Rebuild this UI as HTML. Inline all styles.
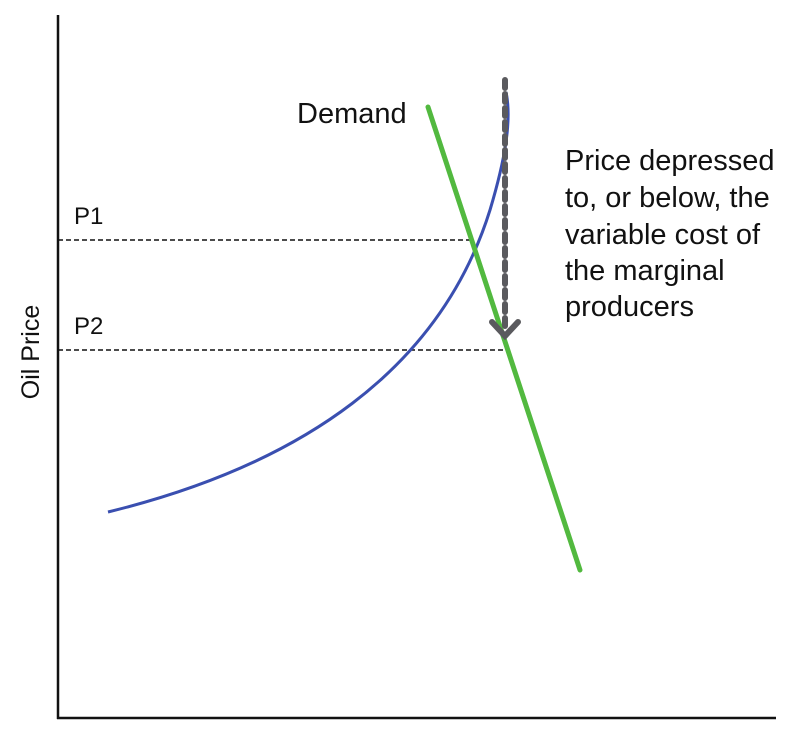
<!DOCTYPE html>
<html><head><style>body{margin:0;background:#fff}</style></head><body>
<svg width="800" height="739" xmlns="http://www.w3.org/2000/svg" font-family="Liberation Sans, Arial, sans-serif">
<rect width="800" height="739" fill="#fff"/>
<line x1="58" y1="15" x2="58" y2="719" stroke="#111" stroke-width="2.5"/>
<line x1="57" y1="718" x2="776" y2="718" stroke="#111" stroke-width="2.5"/>
<line x1="58" y1="240" x2="470" y2="240" stroke="#111" stroke-width="1.5" stroke-dasharray="5,3"/>
<line x1="58" y1="350" x2="507" y2="350" stroke="#111" stroke-width="1.5" stroke-dasharray="5,3"/>
<path d="M108,512 C300,465 440,370 490,210 C505,160 512,120 506,92" fill="none" stroke="#3a4fb0" stroke-width="3"/>
<line x1="428" y1="107" x2="580" y2="570" stroke="#52b93f" stroke-width="5" stroke-linecap="round"/>
<line x1="505" y1="80" x2="505" y2="328" stroke="#5a5a5e" stroke-width="6" stroke-dasharray="8,6" stroke-linecap="round"/>
<polyline points="492,322 505,336 518,322" fill="none" stroke="#5a5a5e" stroke-width="6" stroke-linecap="round"/>
<text x="297" y="123" font-size="29" fill="#111">Demand</text>
<text x="74" y="224" font-size="24" fill="#111">P1</text>
<text x="74" y="334" font-size="24" fill="#111">P2</text>
<g font-size="29" fill="#111">
<text x="565" y="170">Price depressed</text>
<text x="565" y="207">to, or below, the</text>
<text x="565" y="244">variable cost of</text>
<text x="565" y="280">the marginal</text>
<text x="565" y="316">producers</text>
</g>
<text transform="translate(39,352) rotate(-90)" text-anchor="middle" font-size="25" fill="#111">Oil Price</text>
</svg>
</body></html>
